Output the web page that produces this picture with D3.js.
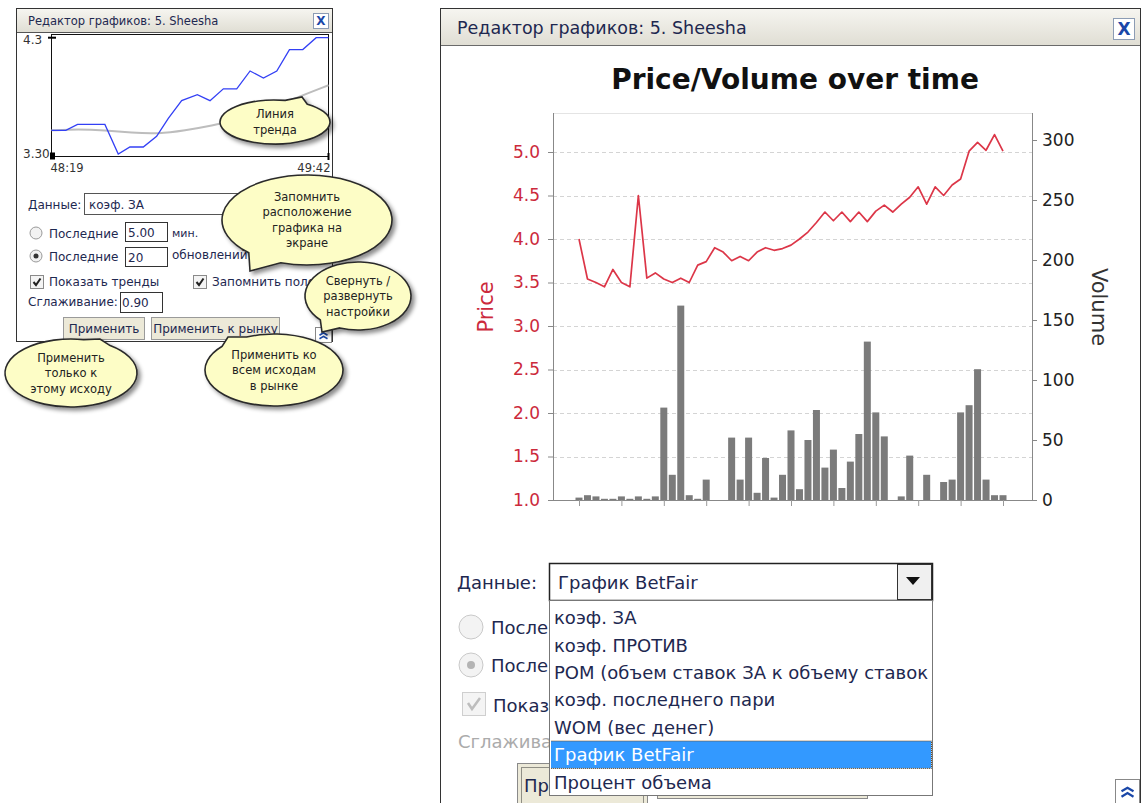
<!DOCTYPE html>
<html>
<head>
<meta charset="utf-8">
<script src="https://cdn.jsdelivr.net/npm/d3@7"></script>
<style>
  body { margin: 0; background: #fff; }
  svg { display: block; font-family: "DejaVu Sans", Verdana, sans-serif; }
</style>
</head>
<body>
<svg id="chart" width="1143" height="803"></svg>
<script>
// ---------- data: big chart (51 updates) ----------
const volume = [2, 4, 3, 1, 1, 3, 1, 3, 1, 3, 77, 21, 162, 4, 1, 17, 0, 0, 52, 17,
  52, 6, 35, 2, 21, 58, 9, 50, 75, 27, 42, 10, 32, 55, 132, 73, 53, 0, 3, 37,
  0, 21, 0, 15, 17, 73, 79, 109, 17, 4, 4];
const price = [4.0, 3.54, 3.5, 3.45, 3.65, 3.5, 3.45, 4.5, 3.55, 3.61, 3.54, 3.5, 3.55, 3.5, 3.7, 3.74, 3.9, 3.85, 3.75, 3.8,
  3.75, 3.85, 3.9, 3.87, 3.89, 3.93, 4.0, 4.08, 4.19, 4.31, 4.21, 4.31, 4.2, 4.31, 4.2, 4.32, 4.39, 4.31, 4.4, 4.48,
  4.6, 4.4, 4.6, 4.5, 4.62, 4.69, 5.01, 5.11, 5.02, 5.2, 5.01];
const priceTicks = [1.0, 1.5, 2.0, 2.5, 3.0, 3.5, 4.0, 4.5, 5.0];
const volumeTicks = [0, 50, 100, 150, 200, 250, 300];
const timeTicks = [0, 5, 10, 15, 20, 25, 30, 35, 40, 45, 50];

// ---------- data: small chart (seconds since 48:19) ----------
const miniTimes = [0, 4.3, 7.8, 16, 20, 23.5, 27.5, 31.5, 35, 39, 43.7, 47.5, 51.5, 55.5, 59.5, 63.5, 67.5, 71.3, 75.3, 79.3, 83];
const miniOdds = [3.52, 3.52, 3.57, 3.57, 3.32, 3.38, 3.38, 3.47, 3.62, 3.77, 3.82, 3.77, 3.87, 3.87, 4.02, 3.96, 4.02, 4.2, 4.2, 4.3, 4.3];
const trendTimes = [0, 8, 16, 24, 32, 40, 48, 56, 64, 72, 83];
const trendOdds = [3.52, 3.53, 3.52, 3.5, 3.49, 3.52, 3.56, 3.61, 3.68, 3.78, 3.9];
const miniYLabels = ['4.3', '3.30'];
const miniXLabels = ['48:19', '49:42'];

// ---------- data: dropdown ----------
const dataOptions = ['коэф. ЗА', 'коэф. ПРОТИВ', 'POM (объем ставок ЗА к объему ставок ПРОТИВ)',
  'коэф. последнего пари', 'WOM (вес денег)', 'График BetFair', 'Процент объема'];
const selectedOption = 'График BetFair';

const svg = d3.select('#chart');
const navy = '#1e2850';

// defs: shadow + title bar gradient
const defs = svg.append('defs');
const flt = defs.append('filter').attr('id', 'shadow')
  .attr('x', '-20%').attr('y', '-20%').attr('width', '150%').attr('height', '150%');
flt.append('feDropShadow').attr('dx', 3).attr('dy', 3).attr('stdDeviation', 2)
  .attr('flood-color', '#000').attr('flood-opacity', 0.45);
const grad = defs.append('linearGradient').attr('id', 'bar')
  .attr('x1', 0).attr('y1', 0).attr('x2', 0).attr('y2', 1);
grad.append('stop').attr('offset', '0%').attr('stop-color', '#f6f5f0');
grad.append('stop').attr('offset', '100%').attr('stop-color', '#e0ded4');
defs.append('clipPath').attr('id', 'listClip')
  .append('rect').attr('x', 551).attr('y', 601).attr('width', 381).attr('height', 194);

function label(g, x, y, str, size, fill, anchor) {
  return g.append('text').attr('x', x).attr('y', y).attr('font-size', size)
    .attr('fill', fill || navy).attr('text-anchor', anchor || 'start').text(str);
}
function chevrons(g, cx, cy, s, w) {
  [-s * 0.55, s * 0.35].forEach(dy => {
    g.append('path')
      .attr('d', `M${cx - s},${cy + dy + s * 0.6} L${cx},${cy + dy} L${cx + s},${cy + dy + s * 0.6}`)
      .attr('fill', 'none').attr('stroke', '#1a47a8').attr('stroke-width', w);
  });
}
function closeButton(g, x, y, size, fs) {
  g.append('rect').attr('x', x + 0.5).attr('y', y + 0.5).attr('width', size).attr('height', size)
    .attr('fill', '#fff').attr('stroke', '#8c9cb4');
  label(g, x + size / 2 + 0.5, y + size / 2 + fs * 0.37, 'X', fs, '#1a47a8', 'middle')
    .attr('font-weight', 'bold');
}

// =============== RIGHT WINDOW ===============
const R = svg.append('g');
R.append('rect').attr('x', 440.5).attr('y', 8.5).attr('width', 700).attr('height', 820)
  .attr('fill', '#fff').attr('stroke', '#333');
R.append('rect').attr('x', 441).attr('y', 9).attr('width', 699).attr('height', 36).attr('fill', 'url(#bar)');
R.append('line').attr('x1', 441).attr('x2', 1140).attr('y1', 45.5).attr('y2', 45.5).attr('stroke', '#6a6a6a');
label(R, 457, 34, 'Редактор графиков: 5. Sheesha', 17.5);
closeButton(R, 1113, 18, 21, 17);

label(R, 795, 89, 'Price/Volume over time', 28, '#111', 'middle').attr('font-weight', 'bold');

// scales
const x = d3.scaleLinear().domain([0, 50]).range([579, 1003]);
const yPrice = d3.scaleLinear().domain([1, 5]).range([500, 152]);
const yVol = d3.scaleLinear().domain([0, 300]).range([500, 140]);
const plotL = 553, plotR = 1032, plotT = 113, plotB = yPrice(1);

// faint frame top
R.append('line').attr('x1', plotL).attr('x2', plotR).attr('y1', plotT + 0.5).attr('y2', plotT + 0.5)
  .attr('stroke', '#e4e4e4');

// grid lines
R.append('g').selectAll('line').data(priceTicks.slice(1)).join('line')
  .attr('x1', plotL).attr('x2', plotR)
  .attr('y1', d => Math.round(yPrice(d)) + 0.5).attr('y2', d => Math.round(yPrice(d)) + 0.5)
  .attr('stroke', '#d4d4d4').attr('stroke-dasharray', '4,3');

// bars
R.append('g').selectAll('rect').data(volume).join('rect')
  .attr('x', (d, i) => x(i) - 3.5).attr('width', 7)
  .attr('y', d => yVol(d)).attr('height', d => yVol(0) - yVol(d))
  .attr('fill', '#7b7b7b');

// price line
R.append('path').datum(price)
  .attr('d', d3.line().x((d, i) => x(i)).y(d => yPrice(d)))
  .attr('fill', 'none').attr('stroke', '#dc3648').attr('stroke-width', 1.7)
  .attr('stroke-linejoin', 'round');

// axis lines
R.append('line').attr('x1', plotL + 0.5).attr('x2', plotL + 0.5).attr('y1', plotT).attr('y2', plotB)
  .attr('stroke', '#888');
R.append('line').attr('x1', plotR + 0.5).attr('x2', plotR + 0.5).attr('y1', plotT).attr('y2', plotB)
  .attr('stroke', '#888');
R.append('line').attr('x1', plotL).attr('x2', plotR + 1).attr('y1', plotB + 0.5).attr('y2', plotB + 0.5)
  .attr('stroke', '#888');

// left axis (price)
const axL = R.append('g').attr('transform', `translate(${plotL},0)`)
  .call(d3.axisLeft(yPrice).tickValues(priceTicks).tickFormat(d3.format('.1f')).tickSize(5).tickPadding(8));
axL.select('.domain').remove();
axL.selectAll('line').attr('stroke', '#888');
axL.selectAll('text').attr('font-size', 17).attr('fill', '#cc2a3c').attr('font-family', 'DejaVu Sans');

// right axis (volume)
const axR = R.append('g').attr('transform', `translate(${plotR},0)`)
  .call(d3.axisRight(yVol).tickValues(volumeTicks).tickSize(5).tickPadding(5));
axR.select('.domain').remove();
axR.selectAll('line').attr('stroke', '#888');
axR.selectAll('text').attr('font-size', 17).attr('fill', '#222').attr('font-family', 'DejaVu Sans');

// bottom axis ticks (labels are blank in the source)
const axB = R.append('g').attr('transform', `translate(0,${plotB})`)
  .call(d3.axisBottom(x).tickValues(timeTicks).tickFormat('').tickSize(6));
axB.select('.domain').remove();
axB.selectAll('line').attr('stroke', '#999');

// axis titles
label(R, 0, 0, 'Price', 21, '#cc2a3c', 'middle').attr('transform', 'translate(493,307) rotate(-90)');
label(R, 0, 0, 'Volume', 21, '#333', 'middle').attr('transform', 'translate(1092,307) rotate(90)');

// ---- settings area, mostly hidden by the open dropdown ----
label(R, 457, 589, 'Данные:', 18);
R.append('circle').attr('cx', 471).attr('cy', 627).attr('r', 12).attr('fill', '#f3f3f3').attr('stroke', '#c9c9c9');
label(R, 491, 634, 'После', 18);
R.append('circle').attr('cx', 471).attr('cy', 665).attr('r', 12).attr('fill', '#f3f3f3').attr('stroke', '#c9c9c9');
R.append('circle').attr('cx', 471).attr('cy', 665).attr('r', 4).attr('fill', '#b4b4b4');
label(R, 491, 672, 'После', 18);
R.append('rect').attr('x', 462.5).attr('y', 692.5).attr('width', 23).attr('height', 23)
  .attr('fill', '#f4f4f4').attr('stroke', '#cfcfcf');
R.append('path').attr('d', 'M468,703 L472,709 L480,698').attr('fill', 'none')
  .attr('stroke', '#bdbdbd').attr('stroke-width', 2.5);
label(R, 493, 712, 'Показ', 18);
label(R, 458, 748, 'Сглажива', 18, '#ababab');
R.append('rect').attr('x', 517.5).attr('y', 763.5).attr('width', 130).attr('height', 45)
  .attr('fill', '#ece9d8').attr('stroke', '#8a8a8a');
R.append('rect').attr('x', 521.5).attr('y', 767.5).attr('width', 122).attr('height', 37)
  .attr('fill', 'none').attr('stroke', '#333').attr('stroke-dasharray', '1,1');
label(R, 524, 792, 'Пр', 18);
R.append('rect').attr('x', 657.5).attr('y', 761.5).attr('width', 210).attr('height', 37)
  .attr('fill', '#ece9d8').attr('stroke', '#8a8a8a');

// combobox
R.append('rect').attr('x', 549.5).attr('y', 563.5).attr('width', 383).attr('height', 37)
  .attr('fill', '#fff').attr('stroke', '#222').attr('stroke-width', 1.5);
R.append('rect').attr('x', 897.5).attr('y', 564.5).attr('width', 34).attr('height', 35)
  .attr('fill', '#f0f0f0').attr('stroke', '#333');
R.append('path').attr('d', 'M906,577 L920,577 L913,585 Z').attr('fill', '#111');
label(R, 558, 589, selectedOption, 18);

// dropdown list
const list = R.append('g');
list.append('rect').attr('x', 549.5).attr('y', 600.5).attr('width', 383).attr('height', 195)
  .attr('fill', '#fff').attr('stroke', '#777');
const itemY = d3.scaleBand().domain(dataOptions).range([604, 795.8]);
const items = list.append('g').attr('clip-path', 'url(#listClip)');
items.append('rect').attr('x', 550.5).attr('y', itemY(selectedOption)).attr('width', 381)
  .attr('height', itemY.bandwidth()).attr('fill', '#3399ff')
  .attr('stroke', '#7a4a10').attr('stroke-dasharray', '1,1');
items.selectAll('text.opt').data(dataOptions).join('text').attr('class', 'opt')
  .attr('x', 554).attr('y', d => itemY(d) + itemY.bandwidth() / 2 + 6.5)
  .attr('font-size', 18)
  .attr('fill', d => d === selectedOption ? '#fff' : navy)
  .text(d => d);

// collapse button bottom right
R.append('rect').attr('x', 1115.5).attr('y', 779.5).attr('width', 24).attr('height', 26)
  .attr('fill', '#fff').attr('stroke', '#888');
chevrons(R, 1127.5, 791, 6, 2.2);

// =============== LEFT WINDOW ===============
const L = svg.append('g');
L.append('rect').attr('x', 16.5).attr('y', 8.5).attr('width', 316).attr('height', 333)
  .attr('fill', '#fff').attr('stroke', '#333');
L.append('rect').attr('x', 17).attr('y', 9).attr('width', 315).attr('height', 23).attr('fill', 'url(#bar)');
L.append('line').attr('x1', 17).attr('x2', 332).attr('y1', 32.5).attr('y2', 32.5).attr('stroke', '#555');
label(L, 28, 25, 'Редактор графиков: 5. Sheesha', 11.5);
closeButton(L, 313, 13, 15, 12);

// mini chart
const mx = d3.scaleLinear().domain([0, 83]).range([51.5, 328.5]);
const my = d3.scaleLinear().domain([3.3, 4.3]).range([156.5, 37.7]);
L.append('rect').attr('x', 51.5).attr('y', 34.5).attr('width', 277).attr('height', 122)
  .attr('fill', '#fff').attr('stroke', '#111');
L.append('path').datum(trendTimes.map((t, i) => [t, trendOdds[i]]))
  .attr('d', d3.line().x(d => mx(d[0])).y(d => my(d[1])).curve(d3.curveBasis))
  .attr('fill', 'none').attr('stroke', '#bdbdbd').attr('stroke-width', 2);
L.append('path').datum(miniTimes.map((t, i) => [t, miniOdds[i]]))
  .attr('d', d3.line().x(d => mx(d[0])).y(d => my(d[1])))
  .attr('fill', 'none').attr('stroke', '#3340f5').attr('stroke-width', 1.3);
L.append('line').attr('x1', 48).attr('x2', 56).attr('y1', my(4.3)).attr('y2', my(4.3))
  .attr('stroke', '#000').attr('stroke-width', 2);
L.append('rect').attr('x', 50).attr('y', my(3.3) - 4).attr('width', 5).attr('height', 7).attr('fill', '#000');
L.append('line').attr('x1', mx(83)).attr('x2', mx(83)).attr('y1', 153).attr('y2', 160)
  .attr('stroke', '#000').attr('stroke-width', 2);
label(L, 23, my(4.3) + 6, miniYLabels[0], 12, '#333');
label(L, 23, my(3.3) + 1, miniYLabels[1], 12, '#333');
label(L, mx(0) - 1, 172, miniXLabels[0], 11.5, '#333');
label(L, mx(83) + 2, 172, miniXLabels[1], 11.5, '#333', 'end');

// left settings
label(L, 28, 209, 'Данные:', 12);
L.append('rect').attr('x', 84.5).attr('y', 193.5).attr('width', 220).attr('height', 21)
  .attr('fill', '#fff').attr('stroke', '#555');
label(L, 89, 209, 'коэф. ЗА', 12);
L.append('circle').attr('cx', 36).attr('cy', 233).attr('r', 6).attr('fill', '#f2f2f2').attr('stroke', '#9a9a9a');
label(L, 49, 238, 'Последние', 12);
L.append('rect').attr('x', 125.5).attr('y', 222.5).attr('width', 42).attr('height', 19)
  .attr('fill', '#fff').attr('stroke', '#333');
label(L, 128, 237, '5.00', 12);
label(L, 172, 237, 'мин.', 11);
L.append('circle').attr('cx', 36).attr('cy', 256).attr('r', 6).attr('fill', '#f2f2f2').attr('stroke', '#9a9a9a');
L.append('circle').attr('cx', 36).attr('cy', 256).attr('r', 2.5).attr('fill', '#333');
label(L, 49, 261, 'Последние', 12);
L.append('rect').attr('x', 125.5).attr('y', 247.5).attr('width', 42).attr('height', 19)
  .attr('fill', '#fff').attr('stroke', '#333');
label(L, 128, 262, '20', 12);
label(L, 172, 259, 'обновлений', 12);
[30.5, 193.5].forEach(cx => {
  L.append('rect').attr('x', cx).attr('y', 275.5).attr('width', 13).attr('height', 13)
    .attr('fill', '#f4f4f4').attr('stroke', '#8a8a8a');
  L.append('path').attr('d', `M${cx + 3},${282} L${cx + 5.5},${285} L${cx + 10},${278.5}`)
    .attr('fill', 'none').attr('stroke', '#222').attr('stroke-width', 2);
});
label(L, 49, 286, 'Показать тренды', 12);
label(L, 212, 286, 'Запомнить поло', 12);
label(L, 28, 306, 'Сглаживание:', 12);
L.append('rect').attr('x', 120.5).attr('y', 292.5).attr('width', 42).attr('height', 20)
  .attr('fill', '#fff').attr('stroke', '#333');
label(L, 122, 307, '0.90', 12);
L.append('rect').attr('x', 63.5).attr('y', 317.5).attr('width', 81).attr('height', 22)
  .attr('fill', '#ece9d8').attr('stroke', '#9a9a9a');
label(L, 104, 333, 'Применить', 12, navy, 'middle');
L.append('rect').attr('x', 151.5).attr('y', 317.5).attr('width', 128).attr('height', 22)
  .attr('fill', '#ece9d8').attr('stroke', '#9a9a9a');
label(L, 215.5, 333, 'Применить к рынку', 12, navy, 'middle');
L.append('rect').attr('x', 315.5).attr('y', 327.5).attr('width', 16).attr('height', 15)
  .attr('fill', '#fff').attr('stroke', '#888');
chevrons(L, 323.5, 335, 4, 1.6);

// =============== CALLOUTS ===============
const callouts = [
  { cx: 275, cy: 122, rx: 55, ry: 22, tip: [302, 97], lines: ['Линия', 'тренда'] },
  { cx: 307, cy: 220, rx: 85, ry: 45, tip: [250, 271], lines: ['Запомнить', 'расположение', 'графика на', 'экране'] },
  { cx: 358, cy: 296, rx: 53, ry: 34, tip: [322, 332], lines: ['Свернуть /', 'развернуть', 'настройки'] },
  { cx: 71, cy: 373, rx: 66, ry: 34, tip: [100, 339], lines: ['Применить', 'только к', 'этому исходу'] },
  { cx: 274, cy: 370, rx: 69, ry: 36, tip: [228, 337], lines: ['Применить ко', 'всем исходам', 'в рынке'] }
];
function calloutPath(c) {
  const t = Math.atan2((c.tip[1] - c.cy) / c.ry, (c.tip[0] - c.cx) / c.rx);
  const d = 0.22;
  const a = [c.cx + c.rx * Math.cos(t + d), c.cy + c.ry * Math.sin(t + d)];
  const b = [c.cx + c.rx * Math.cos(t - d), c.cy + c.ry * Math.sin(t - d)];
  return `M${a[0]},${a[1]} A${c.rx},${c.ry} 0 1 1 ${b[0]},${b[1]} L${c.tip[0]},${c.tip[1]} Z`;
}
const C = svg.append('g');
callouts.forEach(c => {
  const g = C.append('g');
  g.append('path').attr('d', calloutPath(c)).attr('fill', '#fdfdc6')
    .attr('stroke', '#2a2a2a').attr('stroke-width', 1.6).attr('filter', 'url(#shadow)');
  const lh = 15.5;
  const y0 = c.cy - (c.lines.length - 1) * lh / 2 + 4;
  c.lines.forEach((s, i) => label(g, c.cx, y0 + i * lh, s, 11.5, '#222', 'middle'));
});
</script>
</body>
</html>
